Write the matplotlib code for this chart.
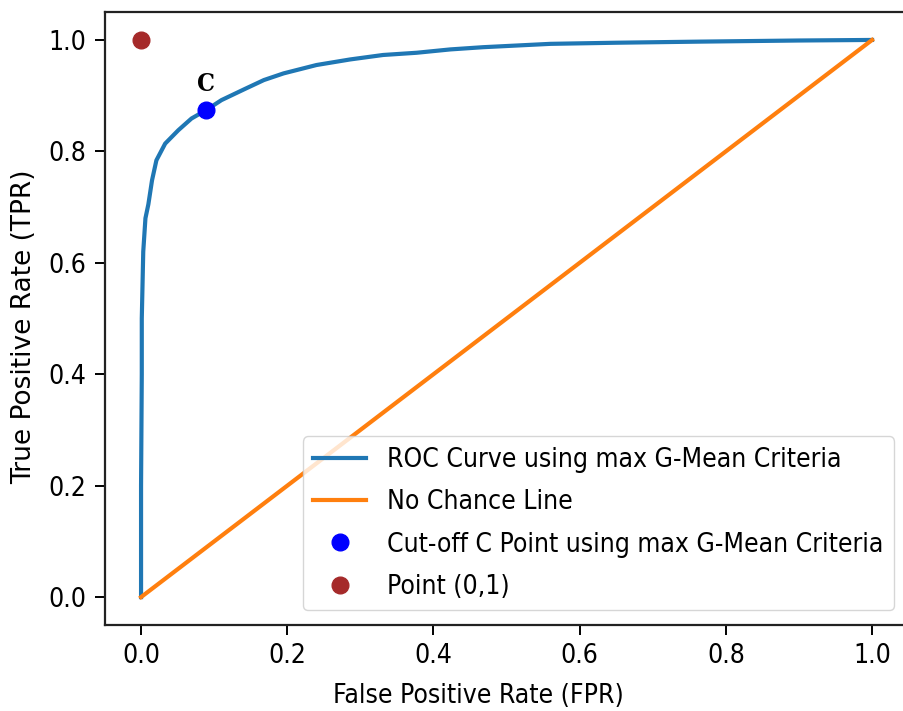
import matplotlib
matplotlib.use('Agg')
import matplotlib.pyplot as plt
import numpy as np

# ROC curve read at a handful of thresholds
fpr = [0.0, 0.0, 0.001, 0.001, 0.003, 0.006, 0.010, 0.015, 0.021, 0.033,
       0.051, 0.069, 0.089, 0.110, 0.142, 0.168, 0.195, 0.240, 0.286, 0.331,
       0.377, 0.423, 0.468, 0.514, 0.560, 0.650, 0.765, 0.900, 1.0]
tpr = [0.0, 0.20, 0.40, 0.50, 0.62, 0.68, 0.705, 0.748, 0.784, 0.814,
       0.838, 0.859, 0.874, 0.892, 0.912, 0.928, 0.940, 0.955, 0.965, 0.973,
       0.977, 0.983, 0.987, 0.990, 0.993, 0.995, 0.997, 0.999, 1.0]

# chance diagonal
chance_x = [0, 1]
chance_y = [0, 1]

# best threshold by G-mean, and the ideal corner
cut_fpr, cut_tpr = 0.089, 0.874
ideal_fpr, ideal_tpr = 0, 1

FS = 19
plt.rcParams['font.family'] = 'DejaVu Sans'
plt.rcParams['font.stretch'] = 'condensed'

fig = plt.figure(figsize=(9.04, 7.11), dpi=100)
ax = fig.add_axes([0.1156, 0.121, 0.8895, 0.862])

ax.plot(fpr, tpr, color='tab:blue', lw=3, label='ROC Curve using max G-Mean Criteria')
ax.plot(chance_x, chance_y, color='tab:orange', lw=3, label='No Chance Line')
ax.plot(cut_fpr, cut_tpr, 'o', color='blue', ms=12,
        label='Cut-off C Point using max G-Mean Criteria')
ax.plot(ideal_fpr, ideal_tpr, 'o', color='brown', ms=12, label='Point (0,1)')
ax.text(cut_fpr, cut_tpr + 0.047, 'C', ha='center', va='center',
        fontsize=18, fontweight='bold', family='DejaVu Serif')

ax.set_xlim(-0.05, 1.05)
ax.set_ylim(-0.05, 1.05)
ax.set_xticks(np.arange(0, 1.01, 0.2))
ax.set_yticks(np.arange(0, 1.01, 0.2))
ax.tick_params(labelsize=FS, length=7, width=1.4, pad=6)
for s in ax.spines.values():
    s.set_linewidth(1.6)
    s.set_color('#222222')

ax.set_xlabel('False Positive Rate (FPR)', fontsize=FS)
ax.set_ylabel('True Positive Rate (TPR)', fontsize=19, fontstretch='normal')
ax.xaxis.set_label_coords(0.465, -0.095)
ax.yaxis.set_label_coords(-0.084, 0.486)

ax.legend(loc='lower right', fontsize=FS, borderaxespad=0.55, handlelength=2.0,
          labelspacing=0.62)

fig.savefig('out.png', dpi=100)
